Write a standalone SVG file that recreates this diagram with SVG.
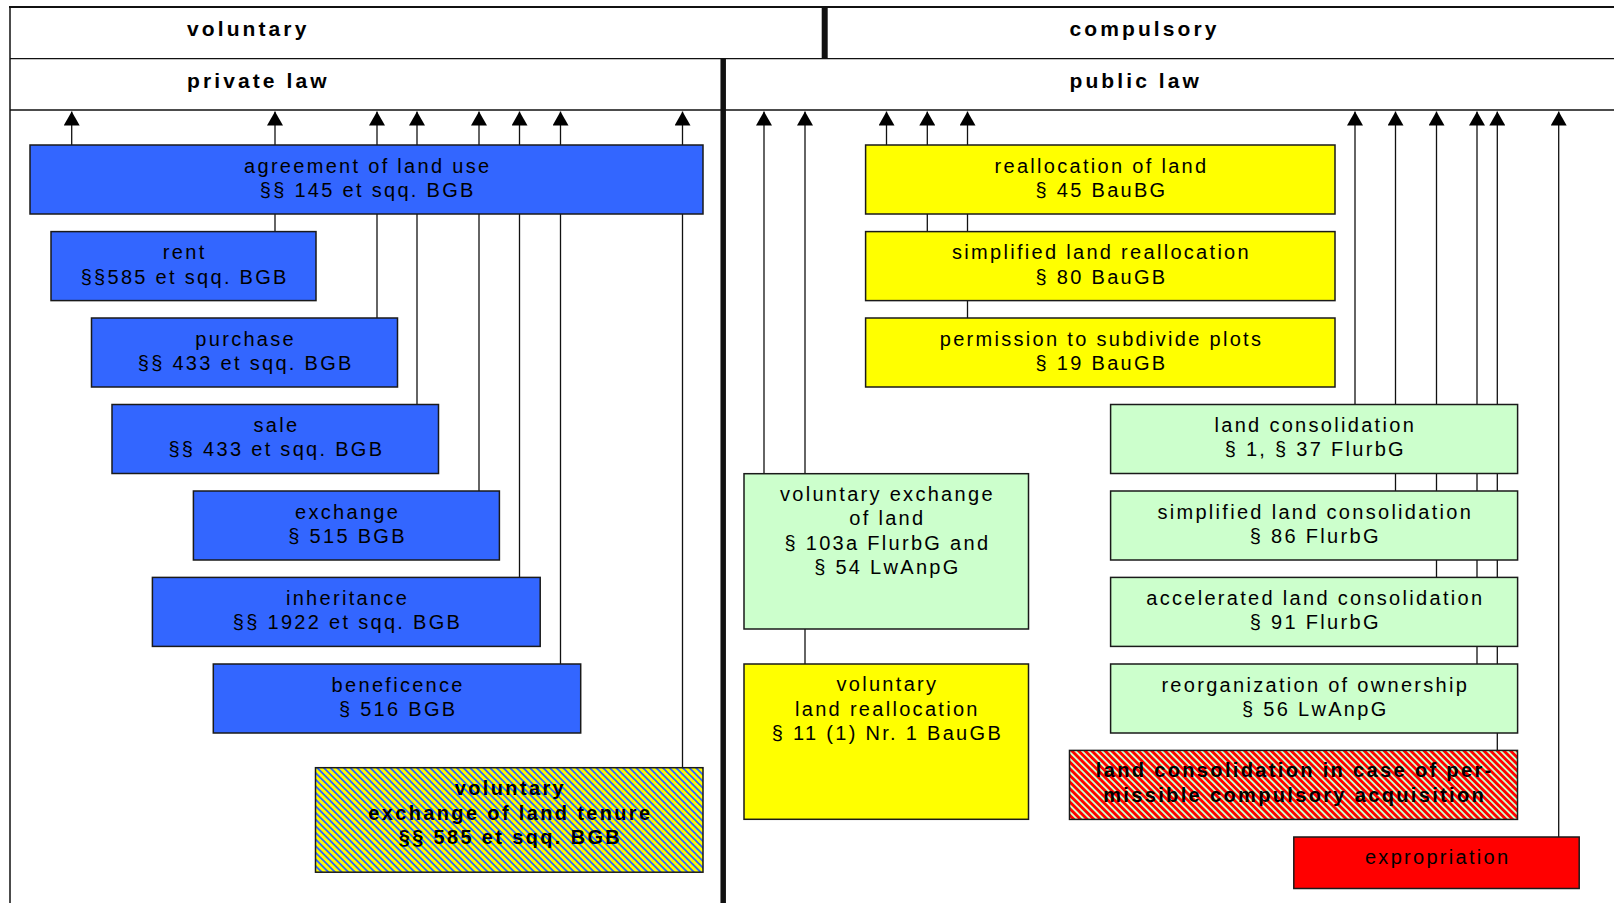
<svg xmlns="http://www.w3.org/2000/svg" width="1614" height="903" viewBox="0 0 1614 903">
<defs>
<style>
.frame{stroke:#111;fill:none}
.c{stroke:#111;stroke-width:1.3;fill:none;marker-end:url(#arr)}
.box{stroke:#1a1a1a;stroke-width:1.5}
.blue{fill:#3366ff}
.yel{fill:#ffff00}
.grn{fill:#ccffcc}
.red{fill:#ff0000}
.t{font-family:'Liberation Sans',Arial,sans-serif;font-size:20px;letter-spacing:2.3px;text-anchor:middle;fill:#000}
.b{font-weight:bold;letter-spacing:2.35px}
.h{font-family:'Liberation Sans',Arial,sans-serif;font-size:21px;font-weight:bold;letter-spacing:3.1px;fill:#000}
.hp rect{shape-rendering:crispEdges}
</style>
<marker id="arr" markerUnits="userSpaceOnUse" markerWidth="14" markerHeight="16" viewBox="0 0 14 16" refX="14" refY="8" orient="auto">
<path d="M0,0 L14,8 L0,16 z" fill="#000"/>
</marker>
<pattern id="hatchBlue" class="hp" patternUnits="userSpaceOnUse" width="4.7" height="4.7" patternTransform="rotate(-45)">
<rect width="4.7" height="4.7" fill="#ffff00"/>
<rect width="2" height="4.7" fill="#3366ff"/>
</pattern>
<pattern id="hatchRed" class="hp" patternUnits="userSpaceOnUse" width="4.7" height="4.7" patternTransform="rotate(-45)">
<rect width="4.7" height="4.7" fill="#ccffcc"/>
<rect width="2.4" height="4.7" fill="#ff0000"/>
</pattern>
</defs>
<rect width="1614" height="903" fill="#fff"/>

<g id="frame">
<line class="frame" x1="9" y1="7" x2="1614" y2="7" stroke-width="2"/>
<line class="frame" x1="10" y1="7" x2="10" y2="903" stroke-width="1.5"/>
<line class="frame" x1="10" y1="58.7" x2="1614" y2="58.7" stroke-width="1.3"/>
<line class="frame" x1="10" y1="110" x2="1614" y2="110" stroke-width="1.3"/>
<line class="frame" x1="824.7" y1="7" x2="824.7" y2="58.7" stroke-width="6"/>
<line class="frame" x1="723.2" y1="58.7" x2="723.2" y2="903" stroke-width="5.5"/>
<text class="h" x="187" y="35.7">voluntary</text>
<text class="h" x="1069.5" y="35.7">compulsory</text>
<text class="h" x="187" y="88.3">private law</text>
<text class="h" x="1069.5" y="88.3">public law</text>
</g>

<g id="connectors">
<line class="c" x1="71.7" y1="145" x2="71.7" y2="111.5"/>
<line class="c" x1="275" y1="231.6" x2="275" y2="111.5"/>
<line class="c" x1="377" y1="318" x2="377" y2="111.5"/>
<line class="c" x1="417" y1="404.5" x2="417" y2="111.5"/>
<line class="c" x1="479" y1="491" x2="479" y2="111.5"/>
<line class="c" x1="519.5" y1="577.4" x2="519.5" y2="111.5"/>
<line class="c" x1="560.5" y1="664" x2="560.5" y2="111.5"/>
<line class="c" x1="682.5" y1="767.7" x2="682.5" y2="111.5"/>
<line class="c" x1="764" y1="473.7" x2="764" y2="111.5"/>
<line class="c" x1="805" y1="664" x2="805" y2="111.5"/>
<line class="c" x1="886.5" y1="145" x2="886.5" y2="111.5"/>
<line class="c" x1="927.3" y1="231.6" x2="927.3" y2="111.5"/>
<line class="c" x1="967.5" y1="318" x2="967.5" y2="111.5"/>
<line class="c" x1="1355" y1="404.5" x2="1355" y2="111.5"/>
<line class="c" x1="1395.5" y1="491" x2="1395.5" y2="111.5"/>
<line class="c" x1="1436.5" y1="577.4" x2="1436.5" y2="111.5"/>
<line class="c" x1="1477" y1="664" x2="1477" y2="111.5"/>
<line class="c" x1="1497.3" y1="750.4" x2="1497.3" y2="111.5"/>
<line class="c" x1="1558.7" y1="837" x2="1558.7" y2="111.5"/>
</g>

<g id="agreement">
<rect class="box blue" x="30" y="145" width="673" height="69"/>
<text class="t" y="172.7"><tspan x="367.7">agreement of land use</tspan><tspan x="367.7" dy="24.2">§§ 145 et sqq. BGB</tspan></text>
</g>
<g id="rent">
<rect class="box blue" x="51" y="231.6" width="265" height="69"/>
<text class="t" y="259.3"><tspan x="184.7">rent</tspan><tspan x="184.7" dy="24.2">§§585 et sqq. BGB</tspan></text>
</g>
<g id="purchase">
<rect class="box blue" x="91.5" y="318" width="306" height="69"/>
<text class="t" y="345.7"><tspan x="245.7">purchase</tspan><tspan x="245.7" dy="24.2">§§ 433 et sqq. BGB</tspan></text>
</g>
<g id="sale">
<rect class="box blue" x="112" y="404.5" width="326.5" height="69"/>
<text class="t" y="432.2"><tspan x="276.4">sale</tspan><tspan x="276.4" dy="24.2">§§ 433 et sqq. BGB</tspan></text>
</g>
<g id="exchange">
<rect class="box blue" x="193.4" y="491" width="306" height="69"/>
<text class="t" y="518.7"><tspan x="347.6">exchange</tspan><tspan x="347.6" dy="24.2">§ 515 BGB</tspan></text>
</g>
<g id="inheritance">
<rect class="box blue" x="152.4" y="577.4" width="387.8" height="69"/>
<text class="t" y="605.1"><tspan x="347.5">inheritance</tspan><tspan x="347.5" dy="24.2">§§ 1922 et sqq. BGB</tspan></text>
</g>
<g id="beneficence">
<rect class="box blue" x="213.3" y="664" width="367.4" height="69"/>
<text class="t" y="691.7"><tspan x="398.2">beneficence</tspan><tspan x="398.2" dy="24.2">§ 516 BGB</tspan></text>
</g>
<g id="voluntary-exchange-tenure">
<rect class="box" fill="url(#hatchBlue)" x="315.5" y="767.7" width="387.5" height="104.5"/>
<text class="t b" y="795.4"><tspan x="510.4">voluntary</tspan><tspan x="510.4" dy="24.2">exchange of land tenure</tspan><tspan x="510.4" dy="24.2">§§ 585 et sqq. BGB</tspan></text>
</g>

<g id="reallocation">
<rect class="box yel" x="865.6" y="145" width="469.4" height="69"/>
<text class="t" y="172.7"><tspan x="1101.5">reallocation of land</tspan><tspan x="1101.5" dy="24.2">§ 45 BauBG</tspan></text>
</g>
<g id="simplified-reallocation">
<rect class="box yel" x="865.6" y="231.6" width="469.4" height="69"/>
<text class="t" y="259.3"><tspan x="1101.5">simplified land reallocation</tspan><tspan x="1101.5" dy="24.2">§ 80 BauGB</tspan></text>
</g>
<g id="permission">
<rect class="box yel" x="865.6" y="318" width="469.4" height="69"/>
<text class="t" y="345.7"><tspan x="1101.5">permission to subdivide plots</tspan><tspan x="1101.5" dy="24.2">§ 19 BauGB</tspan></text>
</g>
<g id="voluntary-exchange-land">
<rect class="box grn" x="744" y="473.7" width="284.5" height="155.3"/>
<text class="t" y="501.2"><tspan x="887.4">voluntary exchange</tspan><tspan x="887.4" dy="24.2">of land</tspan><tspan x="887.4" dy="24.2">§ 103a FlurbG and</tspan><tspan x="887.4" dy="24.2">§ 54 LwAnpG</tspan></text>
</g>
<g id="voluntary-land-reallocation">
<rect class="box yel" x="744" y="664" width="284.5" height="155.3"/>
<text class="t" y="691.4"><tspan x="887.4">voluntary</tspan><tspan x="887.4" dy="24.2">land reallocation</tspan><tspan x="887.4" dy="24.2">§ 11 (1) Nr. 1 BauGB</tspan></text>
</g>
<g id="land-consolidation">
<rect class="box grn" x="1110.6" y="404.5" width="407" height="69"/>
<text class="t" y="432.2"><tspan x="1315.3">land consolidation</tspan><tspan x="1315.3" dy="24.2">§ 1, § 37 FlurbG</tspan></text>
</g>
<g id="simplified-consolidation">
<rect class="box grn" x="1110.6" y="491" width="407" height="69"/>
<text class="t" y="518.7"><tspan x="1315.3">simplified land consolidation</tspan><tspan x="1315.3" dy="24.2">§ 86 FlurbG</tspan></text>
</g>
<g id="accelerated-consolidation">
<rect class="box grn" x="1110.6" y="577.4" width="407" height="69"/>
<text class="t" y="605.1"><tspan x="1315.3">accelerated land consolidation</tspan><tspan x="1315.3" dy="24.2">§ 91 FlurbG</tspan></text>
</g>
<g id="reorganization">
<rect class="box grn" x="1110.6" y="664" width="407" height="69"/>
<text class="t" y="691.7"><tspan x="1315.3">reorganization of ownership</tspan><tspan x="1315.3" dy="24.2">§ 56 LwAnpG</tspan></text>
</g>
<g id="compulsory-consolidation">
<rect class="box" fill="url(#hatchRed)" x="1069.5" y="750.4" width="448" height="69"/>
<text class="t b" y="777"><tspan x="1294.7">land consolidation in case of per-</tspan><tspan x="1294.7" dy="25">missible compulsory acquisition</tspan></text>
</g>
<g id="expropriation">
<rect class="box red" x="1293.8" y="837" width="285.4" height="51.5"/>
<text class="t" x="1437.7" y="863.5">expropriation</text>
</g>
</svg>
